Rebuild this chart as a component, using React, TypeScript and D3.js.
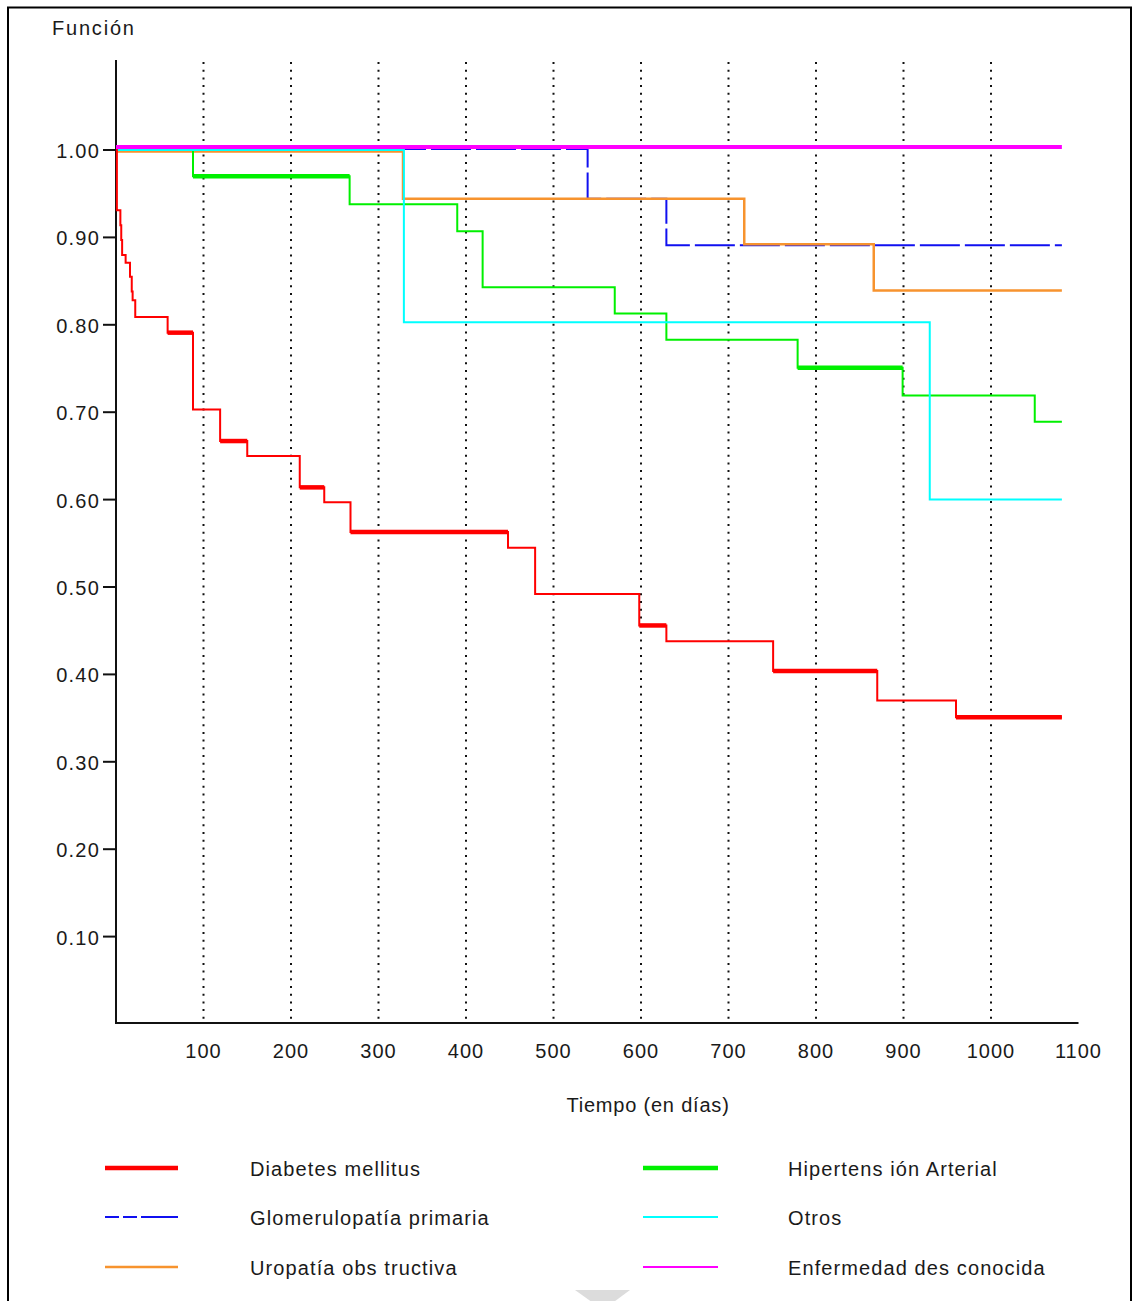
import React from "react";
import * as d3 from "d3";

// ---- data ----
const diabetesTimes = [0, 1, 5, 6, 7, 11, 16, 18, 19, 22, 59, 88, 119, 150, 210, 238, 268, 448, 479, 598, 629, 751, 870, 960, 1081];
const diabetesSurv = [1.0, 0.931, 0.914, 0.897, 0.88, 0.871, 0.855, 0.838, 0.828, 0.809, 0.791, 0.703, 0.667, 0.65, 0.614, 0.597, 0.563, 0.545, 0.492, 0.456, 0.438, 0.404, 0.37, 0.351, 0.351];

const hipertensionTimes = [0, 88, 267, 390, 419, 570, 629, 779, 899, 1050, 1081];
const hipertensionSurv = [1.0, 0.97, 0.938, 0.907, 0.843, 0.813, 0.783, 0.751, 0.719, 0.689, 0.689];

const glomerulopatiaTimes = [0, 539, 629, 1081];
const glomerulopatiaSurv = [1.0, 0.943, 0.89, 0.89];

const uropatiaTimes = [0, 328, 718, 866, 1081];
const uropatiaSurv = [1.0, 0.946, 0.894, 0.841, 0.841];

const otrosTimes = [0, 329, 930, 1081];
const otrosSurv = [1.0, 0.803, 0.6, 0.6];

const desconocidaTimes = [0, 1081];
const desconocidaSurv = [1.0, 1.0];

const xTickValues = [100, 200, 300, 400, 500, 600, 700, 800, 900, 1000, 1100];
const gridValues = [100, 200, 300, 400, 500, 600, 700, 800, 900, 1000];
const yTickValues = [0.1, 0.2, 0.3, 0.4, 0.5, 0.6, 0.7, 0.8, 0.9, 1.0];

const yTitle = "Función";
const xTitle = "Tiempo (en días)";

// ---- styles ----
type Series = {
  name: string;
  times: number[];
  surv: number[];
  color: string;
  width: number;
  dash?: string;
  legendDash?: string;
  legendWidth: number;
  dy: number;
  heavy: number[];
};

const seriesDraw: Series[] = [
  { name: "Glomerulopatía primaria", times: glomerulopatiaTimes, surv: glomerulopatiaSurv, color: "#1010f0", width: 2, dash: "40,5", legendDash: "14,4,14,4,60", legendWidth: 2, dy: -1, heavy: [] },
  { name: "Uropatía obs tructiva", times: uropatiaTimes, surv: uropatiaSurv, color: "#f7932e", width: 2.5, legendWidth: 2.5, dy: 1.5, heavy: [] },
  { name: "Hipertens ión Arterial", times: hipertensionTimes, surv: hipertensionSurv, color: "#00f000", width: 2, legendWidth: 4.5, dy: 0, heavy: [1, 7] },
  { name: "Otros", times: otrosTimes, surv: otrosSurv, color: "#00ffff", width: 2, legendWidth: 2, dy: 0, heavy: [] },
  { name: "Diabetes mellitus", times: diabetesTimes, surv: diabetesSurv, color: "#ff0000", width: 2, legendWidth: 4.5, dy: 0, heavy: [10, 12, 14, 16, 19, 21, 23] },
  { name: "Enfermedad des conocida", times: desconocidaTimes, surv: desconocidaSurv, color: "#ff00ff", width: 4, legendWidth: 2, dy: -3, heavy: [] },
];

const legendOrder = [
  ["Diabetes mellitus", "Hipertens ión Arterial"],
  ["Glomerulopatía primaria", "Otros"],
  ["Uropatía obs tructiva", "Enfermedad des conocida"],
];

const FONT = "'Liberation Sans', Arial, sans-serif";

export default function App() {
  const W = 1132;
  const H = 1301;
  const x = d3.scaleLinear().domain([0, 1100]).range([116, 1078.5]);
  const y = d3.scaleLinear().domain([0, 1]).range([1024, 150]);
  const yTop = y(1.103);
  const yBottom = y(0);

  const line = d3
    .line<[number, number]>()
    .x((d) => x(d[0]))
    .y((d) => y(d[1]))
    .curve(d3.curveStepAfter);

  const fmt = d3.format(".2f");

  const legendRows = [1168, 1217, 1267];
  const legendCols = [
    { x1: 105, x2: 178, tx: 250 },
    { x1: 643, x2: 718, tx: 788 },
  ];
  const byName = new Map(seriesDraw.map((s) => [s.name, s]));

  return (
    <svg
      width={W}
      height={H}
      viewBox={`0 0 ${W} ${H}`}
      style={{ position: "absolute", left: 0, top: 0, background: "#fff" }}
      fontFamily={FONT}
    >
      <rect x={0} y={0} width={W} height={H} fill="#fff" />
      {/* frame */}
      <path d={`M8,${H + 5} V7.5 H1131 V${H + 5}`} fill="none" stroke="#000" strokeWidth={2} />

      {/* dotted gridlines */}
      {gridValues.map((v) => (
        <line
          key={`g${v}`}
          x1={x(v)}
          x2={x(v)}
          y1={yTop + 2}
          y2={yBottom}
          stroke="#111"
          strokeWidth={2}
          strokeDasharray="2,5.7"
        />
      ))}

      {/* axes */}
      <line x1={x(0)} x2={x(0)} y1={yTop} y2={yBottom} stroke="#111" strokeWidth={2} />
      <line x1={x(0) - 1} x2={x(1100)} y1={yBottom - 1} y2={yBottom - 1} stroke="#111" strokeWidth={2} />
      {yTickValues.map((v) => (
        <g key={`yt${v}`}>
          <line x1={x(0) - 13} x2={x(0)} y1={y(v)} y2={y(v)} stroke="#111" strokeWidth={2} />
          <text
            x={x(0) - 16}
            y={y(v) + 8}
            textAnchor="end"
            fontSize={20}
            letterSpacing={1.2}
            fill="#1a1a1a"
          >
            {fmt(v)}
          </text>
        </g>
      ))}
      {xTickValues.map((v) => (
        <text
          key={`xt${v}`}
          x={x(v)}
          y={1058}
          textAnchor="middle"
          fontSize={20}
          letterSpacing={1}
          fill="#1a1a1a"
        >
          {v}
        </text>
      ))}
      <text x={52} y={35} fontSize={20} letterSpacing={1.8} fill="#1a1a1a">
        {yTitle}
      </text>
      <text x={648} y={1112} textAnchor="middle" fontSize={20} letterSpacing={0.8} fill="#1a1a1a">
        {xTitle}
      </text>

      {/* survival curves */}
      {seriesDraw.map((s) => {
        const pts = s.times.map((t, i) => [t, s.surv[i]] as [number, number]);
        return (
          <g key={s.name} transform={`translate(0,${s.dy})`}>
            <path
              d={line(pts) || ""}
              fill="none"
              stroke={s.color}
              strokeWidth={s.width}
              strokeDasharray={s.dash}
            />
            {s.heavy.map((i) => (
              <line
                key={i}
                x1={x(s.times[i])}
                x2={x(s.times[i + 1])}
                y1={y(s.surv[i])}
                y2={y(s.surv[i])}
                stroke={s.color}
                strokeWidth={4.5}
              />
            ))}
          </g>
        );
      })}

      {/* legend */}
      {legendOrder.map((row, ri) =>
        row.map((name, ci) => {
          const s = byName.get(name)!;
          const col = legendCols[ci];
          const ly = legendRows[ri];
          return (
            <g key={name}>
              <line
                x1={col.x1}
                x2={col.x2}
                y1={ly}
                y2={ly}
                stroke={s.color}
                strokeWidth={s.legendWidth}
                strokeDasharray={s.legendDash}
              />
              <text x={col.tx} y={ly + 8} fontSize={20} letterSpacing={1.1} fill="#1a1a1a">
                {name}
              </text>
            </g>
          );
        })
      )}

      {/* faint marker at the bottom */}
      <polygon points="575,1290 630,1290 603,1310" fill="#dcdcdc" />
    </svg>
  );
}
